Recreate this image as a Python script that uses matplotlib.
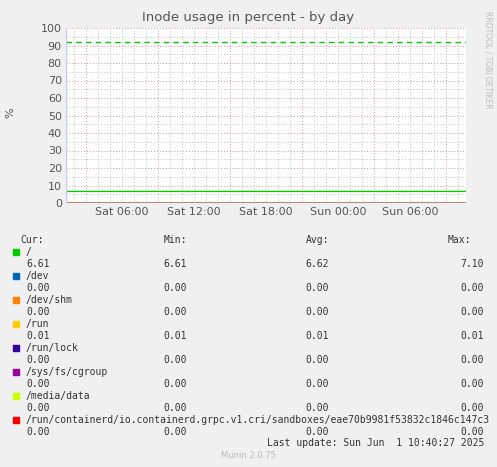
import matplotlib
matplotlib.use("Agg")
import matplotlib.pyplot as plt
import numpy as np

hours = [0.0, 6.0, 12.0, 18.0, 24.0, 30.0, 33.3]  # hours since start (Sat 01:20)
root = [6.61, 6.62, 6.62, 6.62, 6.62, 6.62, 6.62]
zeros = [0.0] * len(hours)
warning = 92
names = ["/", "/dev", "/dev/shm", "/run", "/run/lock", "/sys/fs/cgroup", "/media/data",
         "/run/containerd/io.containerd.grpc.v1.cri/sandboxes/eae70b9981f53832c1846c147c3"]
colors = ["#00cc00", "#0066b3", "#ff8000", "#ffcc00", "#330099", "#990099", "#ccff00", "#ff0000"]
cur = ["6.61", "0.00", "0.00", "0.01", "0.00", "0.00", "0.00", "0.00"]
mins = ["6.61", "0.00", "0.00", "0.01", "0.00", "0.00", "0.00", "0.00"]
avgs = ["6.62", "0.00", "0.00", "0.01", "0.00", "0.00", "0.00", "0.00"]
maxs = ["7.10", "0.00", "0.00", "0.01", "0.00", "0.00", "0.00", "0.00"]
tick_pos = [4.667, 10.667, 16.667, 22.667, 28.667]
tick_labels = ["Sat 06:00", "Sat 12:00", "Sat 18:00", "Sun 00:00", "Sun 06:00"]

W, H = 497, 467
fig = plt.figure(figsize=(W/100, H/100), dpi=100, facecolor="#f0f0f0")
ax = fig.add_axes([66/W, 1-203/H, 400/W, 175/H])
ax.set_facecolor("white")
ax.set_xlim(0, 33.333)
ax.set_ylim(0, 100)
for y in range(0, 101, 5):
    c = "#d89090" if y % 10 == 0 else "#c0c0c0"
    ax.axhline(y, color=c, lw=0.7, ls=(0, (1, 2)), zorder=0)
for h in np.arange(0.667, 33.4, 1.0):
    major = abs(((h - 1.667) % 6)) < 0.01
    ax.axvline(h, color="#d89090" if major else "#c0c0c0", lw=0.7, ls=(0, (1, 2)), zorder=0)
for i in range(7, 0, -1):
    ax.plot(hours, zeros, color=colors[i], lw=1)
ax.plot(hours, root, color=colors[0], lw=1)
ax.axhline(warning, color="#00cc00", lw=1, ls=(0, (4, 3)))
ax.axhline(0, color="#e08080", lw=1)
ax.set_xticks(tick_pos)
ax.set_xticklabels(tick_labels)
ax.set_yticks(range(0, 101, 10))
ax.tick_params(labelsize=8, colors="#555555", length=0, pad=3)
for s in ax.spines.values():
    s.set_visible(False)
ax.axvline(0, color="#c8c8ff", lw=1)
fig.text(0.5, 1-18/H, "Inode usage in percent - by day", ha="center", va="center", fontsize=9.5, color="#555555")
fig.text(10/W, 1-113/H, "%", rotation=90, ha="center", va="center", fontsize=8, color="#555555")
fig.text(488/W, 1-60/H, "RRDTOOL / TOBI OETIKER", rotation=270, ha="center", va="center", fontsize=5.5, color="#bbbbbb")

mono = dict(family="DejaVu Sans Mono", fontsize=7, color="#333333")
fig.text(20/W, 1-240/H, "Cur:", va="center", **mono)
fig.text(187/W, 1-240/H, "Min:", va="center", ha="right", **mono)
fig.text(329/W, 1-240/H, "Avg:", va="center", ha="right", **mono)
fig.text(471/W, 1-240/H, "Max:", va="center", ha="right", **mono)
for i, n in enumerate(names):
    y1 = 252 + i*24
    y2 = y1 + 12
    fig.patches.append(plt.Rectangle((13/W, 1-(y1+3)/H), 6/W, 6/H, color=colors[i], transform=fig.transFigure))
    fig.text(26/W, 1-y1/H, n, va="center", **mono)
    fig.text(26/W, 1-y2/H, cur[i], va="center", **mono)
    fig.text(187/W, 1-y2/H, mins[i], va="center", ha="right", **mono)
    fig.text(329/W, 1-y2/H, avgs[i], va="center", ha="right", **mono)
    fig.text(484/W, 1-y2/H, maxs[i], va="center", ha="right", **mono)
fig.text(484/W, 1-443/H, "Last update: Sun Jun  1 10:40:27 2025", va="center", ha="right", **mono)
fig.text(248/W, 1-456/H, "Munin 2.0.75", ha="center", va="center", fontsize=6, color="#bbbbbb")
fig.savefig("out.png", dpi=100, facecolor=fig.get_facecolor())
